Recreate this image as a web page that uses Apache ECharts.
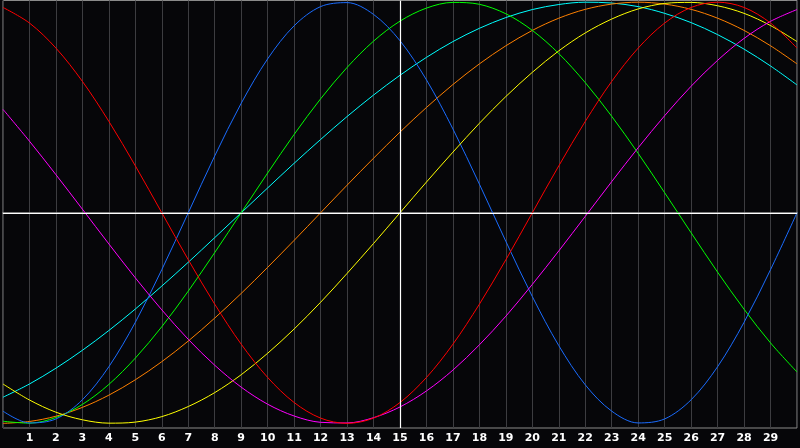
<!DOCTYPE html>
<html>
<head>
<meta charset="utf-8">
<script src="https://cdn.jsdelivr.net/npm/echarts@6/dist/echarts.min.js"></script>
<style>
html,body{margin:0;padding:0;background:#060609;}
#chart{width:800px;height:448px;}
</style>
</head>
<body>
<div id="chart"></div>
<script>
var days = [0,1,2,3,4,5,6,7,8,9,10,11,12,13,14,15,16,17,18,19,20,21,22,23,24,25,26,27,28,29,30];
var tickLabels = [1,2,3,4,5,6,7,8,9,10,11,12,13,14,15,16,17,18,19,20,21,22,23,24,25,26,27,28,29];
var today = 15;

var blue = [-94.2,-99.8,-97.9,-88.8,-73.1,-52.0,-27.0,0,27.0,52.0,73.1,88.8,97.9,99.8,94.2,81.7,63.1,39.8,13.6,-13.6,-39.8,-63.1,-81.7,-94.2,-99.8,-97.9,-88.8,-73.1,-52.0,-27.0,0];
var red = [97.5,90.1,78.2,62.4,43.4,22.3,0,-22.3,-43.4,-62.4,-78.2,-90.1,-97.5,-100,-97.5,-90.1,-78.2,-62.4,-43.4,-22.3,0,22.3,43.4,62.4,78.2,90.1,97.5,100,97.5,90.1,78.2];
var green = [-99.0,-99.9,-97.2,-91.0,-81.5,-69.0,-54.1,-37.2,-18.9,0,18.9,37.2,54.1,69.0,81.5,91.0,97.2,99.9,99.0,94.5,86.6,75.6,61.8,45.8,28.2,9.5,-9.5,-28.2,-45.8,-61.8,-75.6];
var magenta = [49.1,34.0,18.1,1.7,-14.8,-30.9,-46.1,-60.1,-72.4,-82.8,-90.9,-96.5,-99.5,-99.8,-97.3,-92.2,-84.6,-74.7,-62.7,-49.1,-34.0,-18.1,-1.7,14.8,30.9,46.1,60.1,72.4,82.8,90.9,96.5];
var yellow = [-81.3,-88.9,-94.7,-98.3,-99.9,-99.4,-96.8,-92.0,-85.4,-76.9,-66.7,-55.2,-42.5,-28.8,-14.6,0,14.6,28.8,42.5,55.2,66.7,76.9,85.4,92.0,96.8,99.4,99.9,98.3,94.7,88.9,81.3];
var orange = [-100,-99.1,-96.6,-92.4,-86.6,-79.3,-70.7,-60.9,-50.0,-38.3,-25.9,-13.1,0,13.1,25.9,38.3,50.0,60.9,70.7,79.3,86.6,92.4,96.6,99.1,100,99.1,96.6,92.4,86.6,79.3,70.7];
var cyan = [-87.6,-81.3,-73.8,-65.3,-55.9,-45.7,-34.8,-23.5,-11.8,0,11.8,23.5,34.8,45.7,55.9,65.3,73.8,81.3,87.6,92.7,96.5,98.9,100,99.6,97.9,94.7,90.3,84.6,77.7,69.7,60.7];

function pairs(vals){ return days.map(function(d,i){ return [d, vals[i]]; }); }

var seriesDefs = [
  {name:'cyan', data:cyan, color:'#00ffff'},
  {name:'orange', data:orange, color:'#ff8000'},
  {name:'green', data:green, color:'#00ff00'},
  {name:'blue', data:blue, color:'#1a6cff'},
  {name:'yellow', data:yellow, color:'#ffff00'},
  {name:'magenta', data:magenta, color:'#ff00ff'},
  {name:'red', data:red, color:'#ff0000'}
];

var series = seriesDefs.map(function(s){
  return {
    name:s.name, type:'line', data:pairs(s.data), smooth:0.33, showSymbol:false, symbol:'none',
    lineStyle:{color:s.color, width:1}, itemStyle:{color:s.color}, z:3
  };
});
series.push({
  type:'line', data:[], silent:true, z:2,
  markLine:{
    silent:true, symbol:'none', animation:false,
    label:{show:false},
    lineStyle:{color:'#ffffff', width:1.2, type:'solid'},
    data:[{xAxis:today},{yAxis:0}]
  }
});

var chart = echarts.init(document.getElementById('chart'));
chart.setOption({
  backgroundColor:'#060609',
  animation:false,
  grid:{left:0.5, right:1, top:0.5, bottom:20, show:true, borderColor:'#8a8a8a', borderWidth:1, containLabel:false},
  xAxis:{
    type:'value', min:0, max:30, interval:1,
    axisLine:{show:true, lineStyle:{color:'#a0a0a0', width:1.5}},
    axisTick:{show:false},
    axisLabel:{
      color:'#ffffff', fontFamily:'DejaVu Sans', fontWeight:'bold', fontSize:11, margin:5,
      formatter:function(v){ return tickLabels.indexOf(v) >= 0 ? String(v) : ''; }
    },
    splitLine:{show:true, lineStyle:{color:'#3c3c40', width:1}}
  },
  yAxis:{
    type:'value', min:-102.2, max:100.8, show:false,
    splitLine:{show:false}
  },
  series:series
});
</script>
</body>
</html>
